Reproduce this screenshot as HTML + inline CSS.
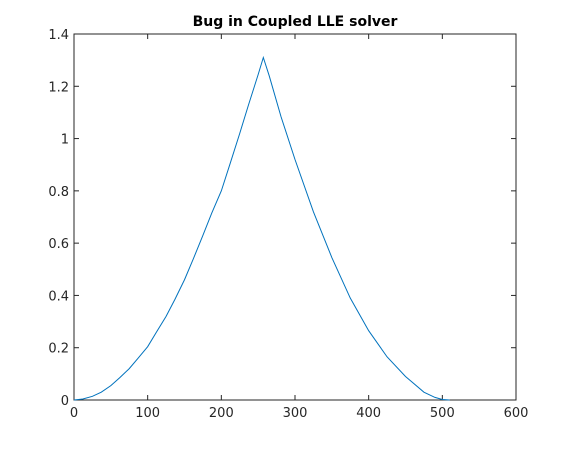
<!DOCTYPE html>
<html><head><meta charset="utf-8"><style>
html,body{margin:0;padding:0;background:#fff;}
svg{display:block;font-family:"DejaVu Sans","Liberation Sans",sans-serif;}
</style></head><body>
<svg id="chart" width="570" height="450" viewBox="0 0 570 450">
<rect x="0" y="0" width="570" height="450" fill="#fff"/>
<text x="295" y="26" text-anchor="middle" font-size="14" font-weight="bold" fill="#000">Bug in Coupled LLE solver</text>
<g id="axes"></g>
<path id="series" fill="none" stroke="#0072bd" stroke-width="1"/>
</svg>
<script>
const xTicks = [0,100,200,300,400,500,600];
const yTicks = [0,0.2,0.4,0.6,0.8,1,1.2,1.4];
const yTickLabels = ["0","0.2","0.4","0.6","0.8","1","1.2","1.4"];
const xs = [0,12,25,37,50,62,75,87,100,112,125,137,150,162,175,187,200,212,225,237,250,257,265,281,300,325,350,375,400,425,450,475,490,500,510];
const ys = [0,0.004,0.014,0.03,0.055,0.085,0.12,0.16,0.204,0.26,0.32,0.385,0.46,0.54,0.63,0.715,0.80,0.905,1.02,1.13,1.245,1.31,1.24,1.084,0.92,0.72,0.545,0.39,0.265,0.165,0.09,0.03,0.01,0.002,0];

const L=74,R=516,T=34,B=400;
const sx=v=>L+(v-0)/(600-0)*(R-L);
const sy=v=>B-(v-0)/(1.4-0)*(B-T);
const NS="http://www.w3.org/2000/svg";
const ax=document.getElementById('axes');
function mk(tag,attrs){const e=document.createElementNS(NS,tag);for(const k in attrs)e.setAttribute(k,attrs[k]);ax.appendChild(e);return e;}
const box=mk('rect',{x:L,y:T,width:R-L,height:B-T,fill:'none',stroke:'#262626','stroke-width':1});


xTicks.forEach(v=>{
  const x=sx(v);
  const t1=mk('line',{x1:x,y1:B,x2:x,y2:B-5,stroke:'#262626'});
  
  
  const t2=mk('line',{x1:x,y1:T,x2:x,y2:T+5,stroke:'#262626'});
  
  
  const lb=mk('text',{x:x,y:B+17,'text-anchor':'middle','font-size':13,fill:'#262626'});
  lb.textContent=String(v);
  
  
});
yTicks.forEach((v,i)=>{
  const y=sy(v);
  const t1=mk('line',{x1:L,y1:y,x2:L+5,y2:y,stroke:'#262626'});
  
  
  const t2=mk('line',{x1:R,y1:y,x2:R-5,y2:y,stroke:'#262626'});
  
  
  const lb=mk('text',{x:L-5,y:y+5,'text-anchor':'end','font-size':13,fill:'#262626'});
  lb.textContent=yTickLabels[i];
  
  
});
document.getElementById('series').setAttribute('d',xs.map((x,i)=>(i?'L':'M')+sx(x).toFixed(2)+','+sy(ys[i]).toFixed(2)).join(''));
</script>
</body></html>
